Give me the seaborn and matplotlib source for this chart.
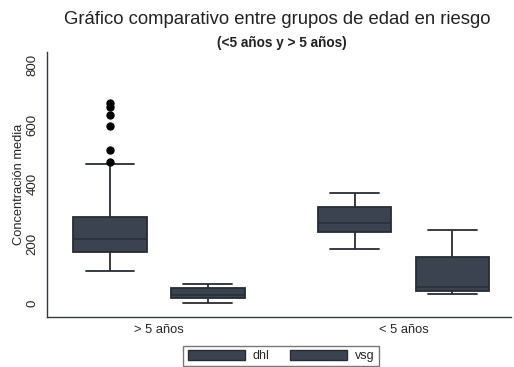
import numpy as np
import pandas as pd
import seaborn as sns
import matplotlib.pyplot as plt
from matplotlib.patches import Patch

# Observations per age group and variable
grupos = ["> 5 años", "< 5 años"]
variables = ["dhl", "vsg"]

dhl_mayor5 = [108, 125, 138, 150, 158, 165, 170, 172, 180, 188, 195, 200, 206, 211,
              215, 224, 236, 248, 260, 272, 283, 290, 466, 473, 514, 595, 632, 660, 671]
vsg_mayor5 = [1, 16, 27, 51, 63]
dhl_menor5 = [182, 240, 268, 324, 369]
vsg_menor5 = [29, 40, 55, 156, 245]

y_ticks = [0, 200, 400, 600, 800]

frames = []
for grupo, var, vals in [(grupos[0], "dhl", dhl_mayor5), (grupos[0], "vsg", vsg_mayor5),
                         (grupos[1], "dhl", dhl_menor5), (grupos[1], "vsg", vsg_menor5)]:
    frames.append(pd.DataFrame({"grupo": grupo, "variable": var, "valor": vals}))
df = pd.concat(frames, ignore_index=True)

sns.set_theme(style="white")
plt.rcParams["font.family"] = ["Liberation Sans", "DejaVu Sans"]

fig = plt.figure(figsize=(5.14, 3.67), dpi=100, facecolor="white")
ax = fig.add_axes([47 / 514, 1 - 317 / 367, (511 - 47) / 514, (317 - 52) / 367])
ax.set_facecolor("white")

box_color = "#3b4350"
edge_color = "#272c34"
sns.boxplot(data=df, x="grupo", y="valor", hue="variable", order=grupos,
            hue_order=variables, palette=[box_color, box_color], saturation=1,
            width=0.8, gap=0.25, whis=1.5, linecolor=edge_color, linewidth=1.3,
            flierprops=dict(marker="o", markersize=5, markerfacecolor="black",
                            markeredgecolor="black"),
            medianprops=dict(color="#2a2f37", linewidth=1.2),
            ax=ax, legend=False)

# wider whisker caps (about two thirds of the box width)
for cont in ax.containers:
    caps = getattr(cont, "caps", None)
    if caps is None:
        continue
    for cap in caps:
        xd = np.asarray(cap.get_xdata(), dtype=float)
        c = xd.mean()
        half = (xd.max() - xd.min()) / 2
        cap.set_xdata([c - half * 1.33, c + half * 1.33])

ax.set_xlim(-0.458, 1.44)
ax.set_ylim(-47, 844)
ax.set_yticks(y_ticks)
ax.set_yticklabels([str(t) for t in y_ticks], rotation=90, va="center", fontsize=9.5)
ax.tick_params(axis="y", direction="out", length=4, width=0.9, color="#333333", pad=2)
ax.tick_params(axis="x", length=0, pad=5, labelsize=9.3)
ax.set_xlabel("")
ax.set_ylabel("Concentración media", fontsize=9.3, labelpad=1)

for side in ["top", "right"]:
    ax.spines[side].set_visible(False)
for side in ["left", "bottom"]:
    ax.spines[side].set_color("#333a44")
    ax.spines[side].set_linewidth(1.0)

fig.text(0.540, 1 - 20 / 367, "Gráfico comparativo entre grupos de edad en riesgo",
         ha="center", va="center", fontsize=13.3, color="#222222")
fig.text(0.548, 1 - 43 / 367, "(<5 años y > 5 años)", ha="center", va="center",
         fontsize=9.8, fontweight="bold", color="#222222")

handles = [Patch(facecolor=box_color, edgecolor=edge_color, label=v) for v in variables]
fig.legend(handles=handles, loc="center", bbox_to_anchor=(281 / 514, 1 - 356 / 367),
           ncol=2, frameon=True, fontsize=9, handlelength=4.6, handleheight=0.8,
           columnspacing=1.6, handletextpad=0.6, borderpad=0.35, fancybox=False,
           edgecolor="#555555")

fig.savefig("out.png", dpi=100, facecolor="white")
